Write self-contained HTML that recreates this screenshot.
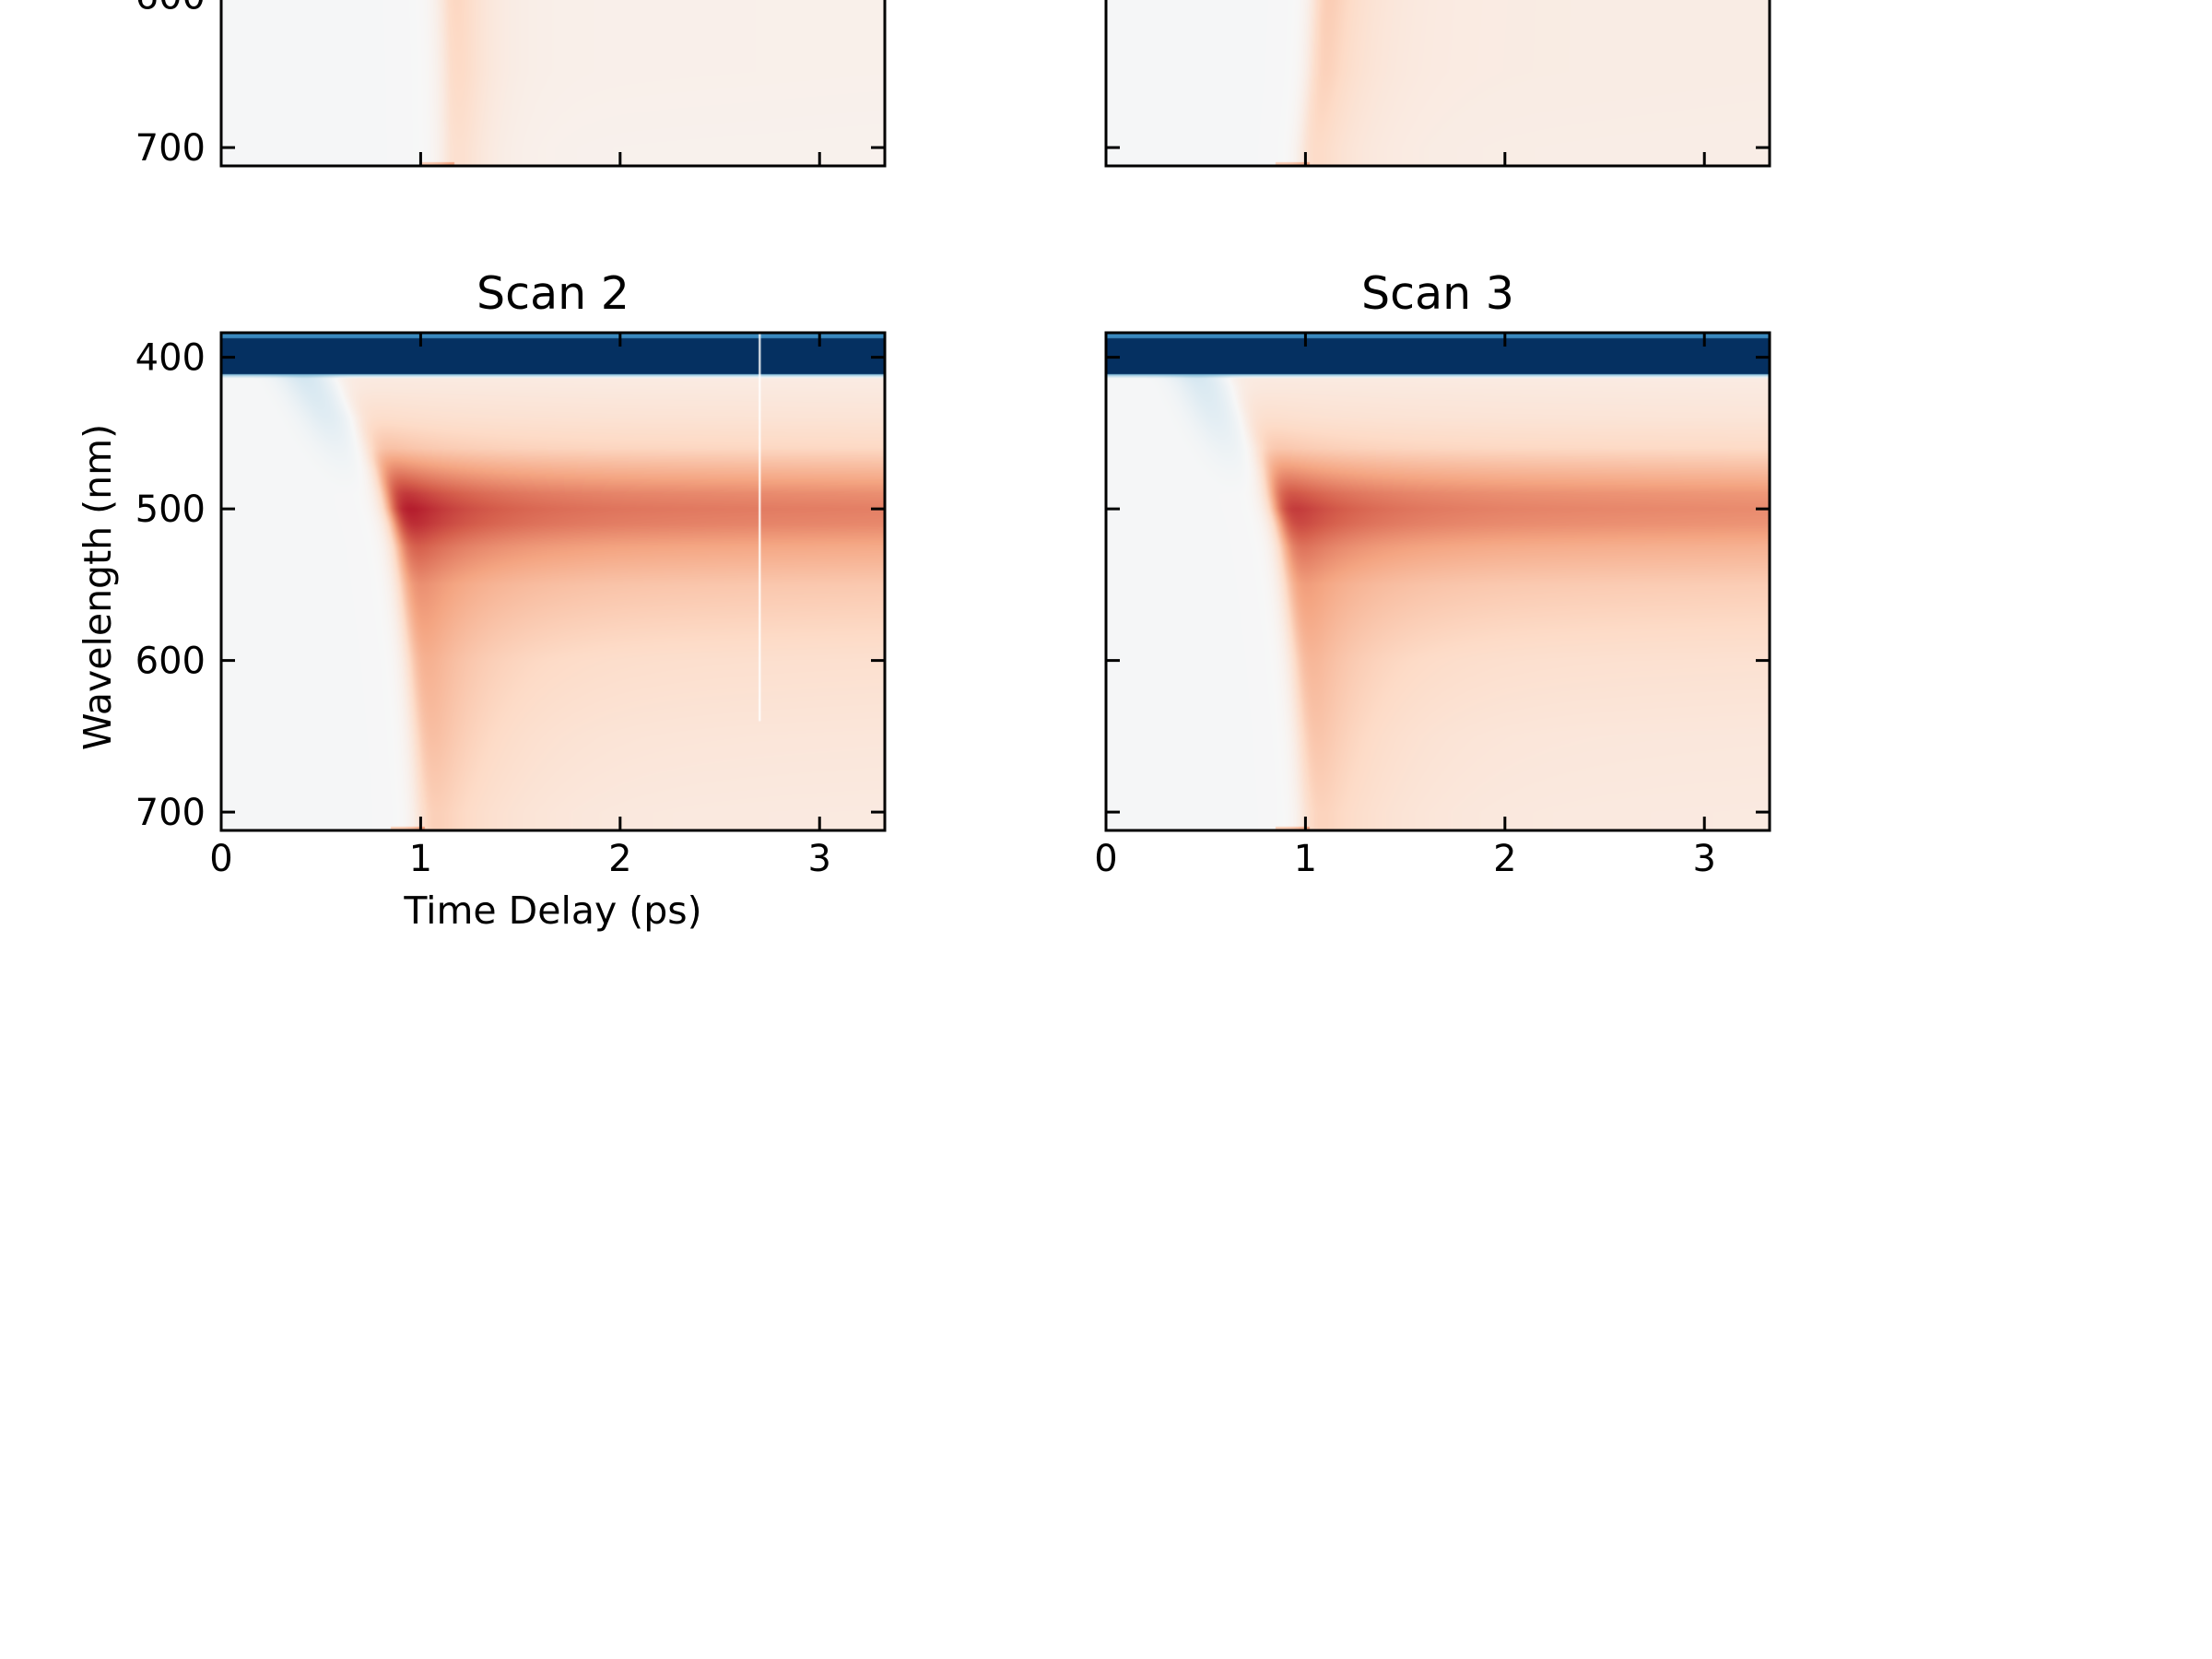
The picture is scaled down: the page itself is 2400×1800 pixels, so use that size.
<!DOCTYPE html>
<html><head><meta charset="utf-8">
<style>
html,body{margin:0;padding:0;background:#fff;}
#fig{position:relative;width:2400px;height:1800px;overflow:hidden;background:#fff;}
canvas{position:absolute;}
svg{position:absolute;left:0;top:0;}
text{font-family:"DejaVu Sans","Liberation Sans",sans-serif;fill:#000;}
</style></head>
<body>
<div id="fig">
<canvas id="c0" width="720" height="540" style="left:240px;top:-360px"></canvas>
<canvas id="c1" width="720" height="540" style="left:1200px;top:-360px"></canvas>
<canvas id="c2" width="720" height="540" style="left:240px;top:361px"></canvas>
<canvas id="c3" width="720" height="540" style="left:1200px;top:361px"></canvas>
<svg id="ov" width="2400" height="1800"></svg>
</div>
<script>
// ---- data ----
const timeRange = [0, 3.327];          // ps
const wlRange = [383.8, 712.1];        // nm
const xTicks = [0, 1, 2, 3];
const yTicks = [400, 500, 600, 700];
const wlGrid   = [411, 420, 440, 460, 475, 490, 500, 510, 525, 550, 600, 650, 700, 712];
const decayT = [0, 1, 2, 3.33];
const decayF = [1, 0.95, 0.9, 0.86];
const scan2Onset   = [0.56, 0.6, 0.68, 0.74, 0.79, 0.83, 0.85, 0.87, 0.89, 0.91, 0.95, 0.98, 1.0, 1.0];
const scan2Plateau = [0.1, 0.12, 0.17, 0.25, 0.4, 0.55, 0.6, 0.57, 0.45, 0.32, 0.2, 0.15, 0.12, 0.12];
const scan2Spike   = [0, 0, 0.04, 0.1, 0.2, 0.3, 0.35, 0.32, 0.28, 0.25, 0.26, 0.25, 0.2, 0.2];
const scan2Pre     = [-0.18, -0.15, -0.11, -0.05, -0.02, 0, 0, 0, 0, 0, 0, 0, 0, 0];
const scan3Onset   = [0.6, 0.64, 0.7, 0.76, 0.8, 0.83, 0.85, 0.87, 0.89, 0.91, 0.95, 0.98, 1.0, 1.0];
const scan3Plateau = [0.1, 0.12, 0.16, 0.24, 0.38, 0.52, 0.56, 0.53, 0.42, 0.3, 0.19, 0.14, 0.12, 0.12];
const scan3Spike   = [0, 0, 0.04, 0.08, 0.15, 0.22, 0.28, 0.26, 0.24, 0.22, 0.24, 0.23, 0.18, 0.18];
const scan3Pre     = [-0.17, -0.14, -0.1, -0.05, -0.02, 0, 0, 0, 0, 0, 0, 0, 0, 0];
const scan0Onset   = [1.12, 1.12, 1.12, 1.12, 1.12, 1.12, 1.12, 1.12, 1.12, 1.12, 1.14, 1.15, 1.15, 1.15];
const scan0Plateau = [0.06, 0.06, 0.06, 0.06, 0.06, 0.06, 0.06, 0.06, 0.06, 0.06, 0.07, 0.07, 0.06, 0.06];
const scan0Spike   = [0.3, 0.3, 0.3, 0.3, 0.3, 0.3, 0.3, 0.3, 0.3, 0.3, 0.33, 0.3, 0.25, 0.25];
const scan0Pre     = [0, 0, 0, 0, 0, 0, 0, 0, 0, 0, 0, 0, 0, 0];
const scan1Onset   = [0.9, 0.92, 0.95, 0.98, 1.0, 1.02, 1.03, 1.04, 1.05, 1.06, 1.06, 1.04, 1.0, 1.0];
const scan1Plateau = [0.1, 0.1, 0.1, 0.1, 0.1, 0.1, 0.1, 0.1, 0.1, 0.1, 0.1, 0.1, 0.09, 0.09];
const scan1Spike   = [0.25, 0.25, 0.25, 0.25, 0.25, 0.25, 0.25, 0.25, 0.25, 0.25, 0.28, 0.25, 0.2, 0.2];
const scan1Pre     = [0, 0, 0, 0, 0, 0, 0, 0, 0, 0, 0, 0, 0, 0];
const scanTitles = ["Scan 2", "Scan 3"];
const cmapStops = ["#053061","#2166ac","#4393c3","#92c5de","#d1e5f0","#f7f7f7","#fddbc7","#f4a582","#d6604d","#b2182b","#67001f"];

// ---- helpers ----
function interp(xs, ys, x){
  if (x <= xs[0]) return ys[0];
  if (x >= xs[xs.length-1]) return ys[ys.length-1];
  for (let i=1;i<xs.length;i++){ if (x<=xs[i]){ const f=(x-xs[i-1])/(xs[i]-xs[i-1]); return ys[i-1]+f*(ys[i]-ys[i-1]); } }
  return ys[ys.length-1];
}
const stopsRGB = cmapStops.map(h=>[parseInt(h.substr(1,2),16),parseInt(h.substr(3,2),16),parseInt(h.substr(5,2),16)]);
function cmap(v){
  v=Math.max(-1,Math.min(1,v)); const p=(v+1)/2*(stopsRGB.length-1);
  const i=Math.min(Math.floor(p),stopsRGB.length-2), f=p-i, a=stopsRGB[i], b=stopsRGB[i+1];
  return [a[0]+(b[0]-a[0])*f, a[1]+(b[1]-a[1])*f, a[2]+(b[2]-a[2])*f];
}
function value(sc, t, wl){
  if (wl < 387.5) return -0.65;
  if (wl < 411) return -1;
  const on = interp(wlGrid, sc.onset, wl), dt = t - on;
  const rise = 1/(1+Math.exp(-dt/sc.riseW));
  const plat = interp(wlGrid, sc.plateau, wl)*interp(decayT, decayF, t);
  const sp = interp(wlGrid, sc.spike, wl)*(dt>0?Math.exp(-dt/sc.spikeTau):1);
  const g = (dt+0.15)/0.13;
  const pre = interp(wlGrid, sc.pre, wl)*Math.exp(-g*g);
  let v = rise*(plat+sp) + pre - 0.008;
  if (wl < 414) v = v*(wl-411)/3 - 0.5*(414-wl)/3;
  if (wl > 709.5 && dt > -0.15 && dt < 0.02) v += 0.25;
  return v;
}
const scans = [
  {onset:scan0Onset, plateau:scan0Plateau, spike:scan0Spike, pre:scan0Pre, riseW:0.04, spikeTau:0.12},
  {onset:scan1Onset, plateau:scan1Plateau, spike:scan1Spike, pre:scan1Pre, riseW:0.03, spikeTau:0.18},
  {onset:scan2Onset, plateau:scan2Plateau, spike:scan2Spike, pre:scan2Pre, riseW:0.03, spikeTau:0.3},
  {onset:scan3Onset, plateau:scan3Plateau, spike:scan3Spike, pre:scan3Pre, riseW:0.03, spikeTau:0.3}
];
const W=720, H=540;
scans.forEach((sc, k)=>{
  const cv=document.getElementById('c'+k), ctx=cv.getContext('2d');
  const img=ctx.createImageData(W,H);
  for (let y=0;y<H;y++){
    const wl = wlRange[0]+(y+0.5)/H*(wlRange[1]-wlRange[0]);
    for (let x=0;x<W;x++){
      const t = timeRange[0]+(x+0.5)/W*(timeRange[1]-timeRange[0]);
      const c=cmap(value(sc,t,wl)); const o=(y*W+x)*4;
      img.data[o]=c[0]; img.data[o+1]=c[1]; img.data[o+2]=c[2]; img.data[o+3]=255;
    }
  }
  ctx.putImageData(img,0,0);
  if (k===2){ // white artifact line
    const xx = (2.7-timeRange[0])/(timeRange[1]-timeRange[0])*W;
    const y1 = (640-wlRange[0])/(wlRange[1]-wlRange[0])*H;
    ctx.fillStyle='#fff'; ctx.fillRect(xx-1,0,2,y1);
  }
});

// ---- axes ----
const NS='http://www.w3.org/2000/svg';
const svg=document.getElementById('ov');
function el(tag, attrs, parent){ const e=document.createElementNS(NS,tag); for(const k in attrs) e.setAttribute(k,attrs[k]); (parent||svg).appendChild(e); return e; }
const panels=[
  {x:240, y:-360, xl:false, yl:true, title:null},
  {x:1200, y:-360, xl:false, yl:false, title:null},
  {x:240, y:361, xl:true, yl:true, title:scanTitles[0]},
  {x:1200, y:361, xl:true, yl:false, title:scanTitles[1]}
];
panels.forEach((p,k)=>{
  const g=el('g',{});
  
  
  const sx=t=>p.x+(t-timeRange[0])/(timeRange[1]-timeRange[0])*W;
  const sy=w=>p.y+(w-wlRange[0])/(wlRange[1]-wlRange[0])*H;
  xTicks.forEach(t=>{
    const X=sx(t);
    const a=el('line',{x1:X,x2:X,y1:p.y+H,y2:p.y+H-15,stroke:'#000','stroke-width':3},g);
    
    
    el('line',{x1:X,x2:X,y1:p.y,y2:p.y+15,stroke:'#000','stroke-width':3},g);
    if (p.xl){
      const tx=el('text',{x:X,y:p.y+H+44,'text-anchor':'middle','font-size':40},g);
      tx.textContent=String(t);
      
      
    }
  });
  yTicks.forEach(w=>{
    const Y=sy(w);
    const a=el('line',{x1:p.x,x2:p.x+15,y1:Y,y2:Y,stroke:'#000','stroke-width':3},g);
    
    
    el('line',{x1:p.x+W,x2:p.x+W-15,y1:Y,y2:Y,stroke:'#000','stroke-width':3},g);
    if (p.yl){
      const tx=el('text',{x:p.x-17,y:Y+14,'text-anchor':'end','font-size':40},g);
      tx.textContent=String(w);
      
      
    }
  });
  const fr=el('rect',{x:p.x,y:p.y,width:W,height:H,fill:'none',stroke:'#000','stroke-width':3},g);
  
  
  if (p.title){
    const tt=el('text',{x:p.x+W/2,y:p.y-26,'text-anchor':'middle','font-size':49},g);
    tt.textContent=p.title;
    
    
  }
});
const xlab=el('text',{x:600,y:1002,'text-anchor':'middle','font-size':41});
xlab.textContent='Time Delay (ps)';


const ylab=el('text',{x:0,y:0,'text-anchor':'middle','font-size':41,transform:'translate(120,637) rotate(-90)'});
ylab.textContent='Wavelength (nm)';


</script>
</body></html>
